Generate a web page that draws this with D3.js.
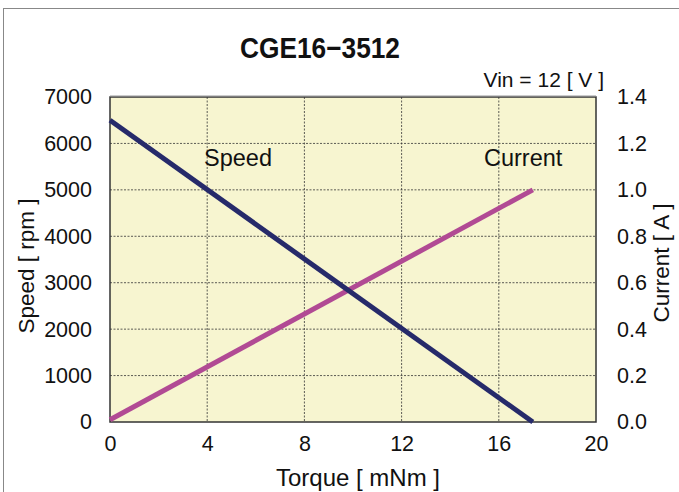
<!DOCTYPE html>
<html><head><meta charset="utf-8">
<script src="https://cdn.jsdelivr.net/npm/d3@7"></script>
<style>body{margin:0;background:#fff}svg{display:block}</style>
</head><body>
<script>
const torque = [0, 17.4];
const speed = [6500, 0];
const current = [0.01, 1.0];
const xTicks = [0, 4, 8, 12, 16, 20];
const ySpeedTicks = [0, 1000, 2000, 3000, 4000, 5000, 6000, 7000];
const yCurrentTicks = [0, 0.2, 0.4, 0.6, 0.8, 1.0, 1.2, 1.4];

const W = 679, H = 492;
const svg = d3.select("body").append("svg").attr("width", W).attr("height", H);
const font = "Liberation Sans, Arial, sans-serif";

svg.append("rect").attr("x", 3.5).attr("y", 8.5).attr("width", 690).attr("height", 500)
  .attr("fill", "none").attr("stroke", "#888").attr("stroke-width", 1);

const L = 110, R = 596, T = 97, B = 422;
const x = d3.scaleLinear().domain([0, 20]).range([L, R]);
const yS = d3.scaleLinear().domain([0, 7000]).range([B, T]);
const yC = d3.scaleLinear().domain([0, 1.4]).range([B, T]);

svg.append("rect").attr("x", L).attr("y", T).attr("width", R - L).attr("height", B - T)
  .attr("fill", "#f7f5d0");

const grid = svg.append("g").attr("stroke", "#333").attr("stroke-width", 0.8).attr("stroke-dasharray", "2,1.5");
xTicks.slice(1, -1).forEach(t => grid.append("line").attr("x1", x(t)).attr("x2", x(t)).attr("y1", T).attr("y2", B));
ySpeedTicks.slice(1, -1).forEach(t => grid.append("line").attr("x1", L).attr("x2", R).attr("y1", yS(t)).attr("y2", yS(t)));

svg.append("rect").attr("x", L).attr("y", T).attr("width", R - L).attr("height", B - T)
  .attr("fill", "none").attr("stroke", "#333").attr("stroke-width", 1.5);
svg.append("line").attr("x1", L).attr("x2", R).attr("y1", T - 1).attr("y2", T - 1).attr("stroke", "#999").attr("stroke-width", 1);

const line = (ys, vals) => d3.line().x((d, i) => x(torque[i])).y((d) => ys(d))(vals);
svg.append("path").attr("d", line(yC, current)).attr("fill", "none").attr("stroke", "#b14a94").attr("stroke-width", 5);
svg.append("path").attr("d", line(yS, speed)).attr("fill", "none").attr("stroke", "#262a6a").attr("stroke-width", 5);

const gx = svg.append("g").attr("transform", `translate(0,${B})`)
  .call(d3.axisBottom(x).tickValues(xTicks).tickSize(0).tickPadding(14).tickFormat(d3.format("d")));
const gl = svg.append("g").attr("transform", `translate(${L},0)`)
  .call(d3.axisLeft(yS).tickValues(ySpeedTicks).tickSize(0).tickPadding(18).tickFormat(d3.format("d")));
const gr = svg.append("g").attr("transform", `translate(${R},0)`)
  .call(d3.axisRight(yC).tickValues(yCurrentTicks).tickSize(0).tickPadding(21).tickFormat(d3.format(".1f")));
[gx, gl, gr].forEach(g => {
  g.select(".domain").remove();
  g.selectAll("text").attr("font-family", font).attr("font-size", 21.5).attr("fill", "#111");
});

svg.append("text").attr("x", 320).attr("y", 58).attr("text-anchor", "middle")
  .attr("font-family", "Liberation Sans Narrow, Arial Narrow, sans-serif").attr("font-weight", "bold")
  .attr("font-size", 29).attr("textLength", 160).attr("lengthAdjust", "spacingAndGlyphs")
  .attr("fill", "#111").text("CGE16\u22123512");
svg.append("text").attr("x", 604).attr("y", 87).attr("text-anchor", "end")
  .attr("font-family", font).attr("font-size", 21).attr("fill", "#111").text("Vin = 12 [ V ]");
svg.append("text").attr("x", 358).attr("y", 486).attr("text-anchor", "middle")
  .attr("font-family", font).attr("font-size", 24).attr("fill", "#111").text("Torque [ mNm ]");
svg.append("text").attr("transform", `translate(34,266) rotate(-90)`).attr("text-anchor", "middle")
  .attr("font-family", font).attr("font-size", 22.5).attr("fill", "#111").text("Speed [ rpm ]");
svg.append("text").attr("transform", `translate(669,263) rotate(-90)`).attr("text-anchor", "middle")
  .attr("font-family", font).attr("font-size", 22.5).attr("fill", "#111").text("Current [ A ]");
svg.append("text").attr("x", 204).attr("y", 166).attr("font-family", font).attr("font-size", 23.5).attr("fill", "#111").text("Speed");
svg.append("text").attr("x", 484).attr("y", 166).attr("font-family", font).attr("font-size", 23.5).attr("fill", "#111").text("Current");
</script>
</body></html>
